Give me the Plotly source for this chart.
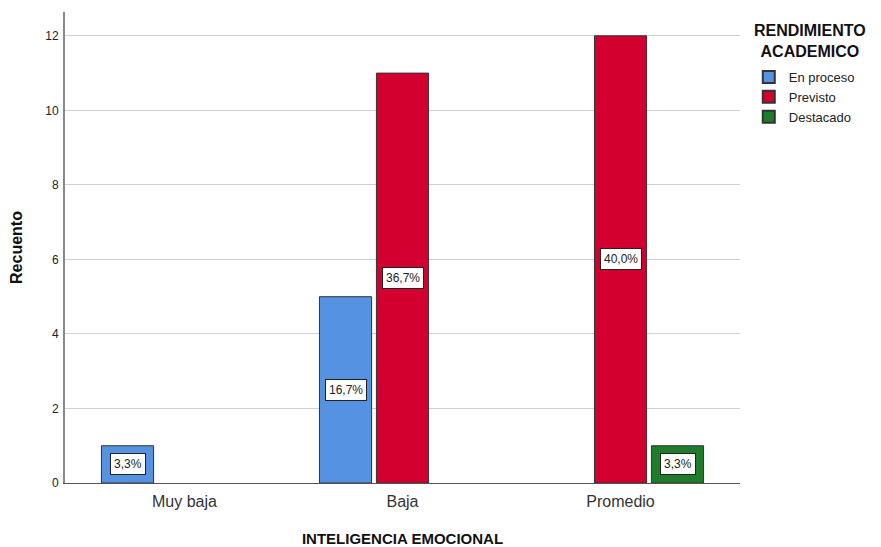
import plotly.graph_objects as go

categories = ["Muy baja", "Baja", "Promedio"]
series_names = ["En proceso", "Previsto", "Destacado"]
en_proceso = [1, 5, 0]
previsto = [0, 11, 12]
destacado = [0, 0, 1]
pct_en_proceso = ["3,3%", "16,7%", ""]
pct_previsto = ["", "36,7%", "40,0%"]
pct_destacado = ["", "", "3,3%"]
y_ticks = [0, 2, 4, 6, 8, 10, 12]

colors = ["#5592E2", "#D3002F", "#1E7C2B"]
values = [en_proceso, previsto, destacado]
pcts = [pct_en_proceso, pct_previsto, pct_destacado]

bargap = 0.216
bargroupgap = 0.085
slot = (1 - bargap) / len(series_names)

fig = go.Figure()
annotations = []
for i, (name, vals, col, pc) in enumerate(zip(series_names, values, colors, pcts)):
    fig.add_trace(go.Bar(
        x=categories,
        y=[v if v else None for v in vals],
        name=name,
        marker=dict(color=col, line=dict(color="#333333", width=1)),
    ))
    for j, (v, t) in enumerate(zip(vals, pc)):
        if v and t:
            annotations.append(dict(
                x=j + (i - 1) * slot, y=v / 2, xref="x", yref="y",
                text=t, showarrow=False,
                font=dict(family="Arial, Liberation Sans", size=12, color="#222222"),
                bgcolor="white", bordercolor="#222222", borderwidth=1, borderpad=3,
            ))

annotations.append(dict(
    x=1.104, y=0.982, xref="paper", yref="paper", xanchor="center", yanchor="top",
    text="<b>RENDIMIENTO<br>ACADEMICO</b>", showarrow=False, align="center",
    font=dict(family="Arial, Liberation Sans", size=16, color="#111111"),
))

fig.update_layout(
    width=881, height=547,
    paper_bgcolor="white", plot_bgcolor="white",
    barmode="group", bargap=bargap, bargroupgap=bargroupgap,
    margin=dict(l=57, r=149, t=4, b=72),
    font=dict(family="Arial, Liberation Sans", color="#222222"),
    annotations=annotations,
    legend=dict(
        x=1.013, xanchor="left", y=0.894, yanchor="top",
        font=dict(size=13, color="#222222"),
        tracegroupgap=0, itemsizing="constant",
        bgcolor="rgba(0,0,0,0)",
    ),
    showlegend=True,
)
fig.update_xaxes(
    type="category", range=[-0.548, 2.548],
    showline=True, linecolor="#555555", linewidth=1,
    ticks="", tickfont=dict(size=16, color="#333333"), ticklabelstandoff=4,
    title=dict(text="<b>INTELIGENCIA EMOCIONAL</b>", font=dict(size=15, color="#111111"), standoff=24),
    showgrid=False,
)
fig.update_yaxes(
    range=[0, 12.64], tickvals=y_ticks,
    showline=True, linecolor="#888888", linewidth=2,
    showgrid=True, gridcolor="#D0D0D0", gridwidth=1,
    zeroline=False, ticks="", tickfont=dict(size=12, color="#222222"), ticklabelstandoff=2,
    title=dict(text="<b>Recuento</b>", font=dict(size=16, color="#111111"), standoff=20),
)

fig.write_html("out.html")
